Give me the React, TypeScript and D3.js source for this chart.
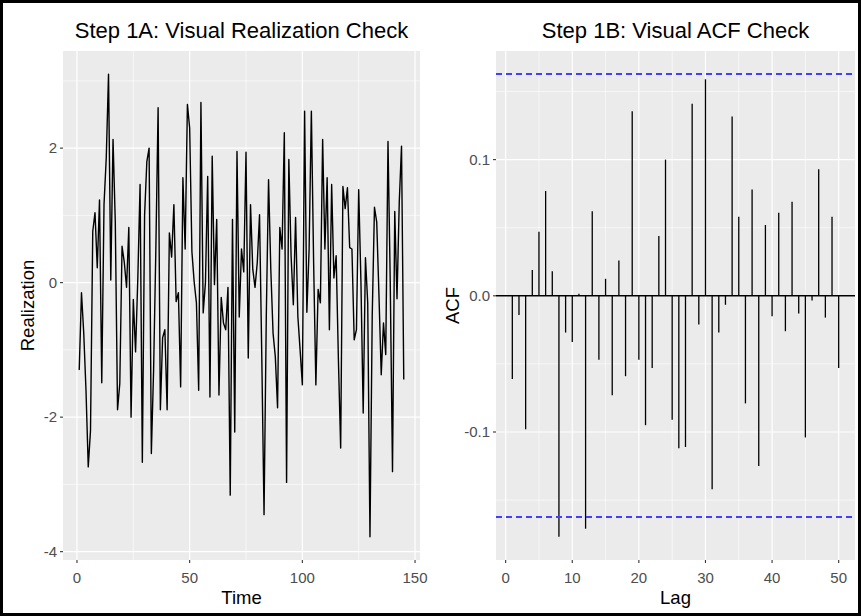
import React from 'react';
import * as d3 from 'd3';

const W = 861;
const H = 616;

// Realization values, t = 1..145
const realization: number[] = [
  -1.30, -0.15, -0.75, -1.60, -2.74, -2.20, 0.76, 1.04, 0.22, 1.23,
  -1.49, 1.16, 1.86, 3.10, 0.04, 2.13, 0.90, -1.89, -1.50, 0.54,
  0.30, -0.07, 0.82, -2.00, -0.25, -1.03, 0.07, 1.46, -2.67, 1.00,
  1.80, 2.00, -2.54, -1.30, 0.50, 2.60, -1.89, -0.82, -0.70, -1.89,
  0.74, 0.38, 1.16, -0.28, -0.15, -1.55, 1.56, 0.50, 2.65, 2.30,
  0.46, 0.01, -0.30, -1.60, 2.68, -0.45, 0.00, 1.58, -1.70, 1.88,
  -0.03, 0.94, -1.67, -0.22, -0.60, -0.70, -0.07, -3.16, 0.94, -2.22,
  1.95, -0.51, 0.50, 0.16, 1.94, -1.12, 1.16, 0.20, -0.07, 0.30,
  1.01, -1.10, -3.45, -0.50, 1.53, 0.20, -0.75, -1.10, -1.86, 0.82,
  0.50, 2.23, -2.97, 1.83, 0.40, -0.33, 0.97, -0.50, -1.00, -1.52,
  2.55, -0.44, 0.50, 2.55, 0.30, -1.52, -0.10, -0.30, 2.13, 0.50,
  1.56, -0.70, 1.46, 0.07, 0.40, -1.15, -2.46, 1.43, 1.10, 1.41,
  0.52, 0.50, -0.85, -0.70, 1.38, 0.00, -1.94, 0.37, -0.30, -3.78,
  -0.50, 1.12, 0.90, -0.20, -1.37, -0.60, -1.07, 2.10, 0.00, -2.81,
  1.06, -0.24, 1.20, 2.03, -1.44,
];

// ACF values, lag = 1..50
const acfValues: number[] = [
  -0.061, -0.014, -0.098, 0.019, 0.047, 0.077, 0.018, -0.177, -0.027, -0.034,
  0.0015, -0.171, 0.062, -0.047, 0.0125, -0.073, 0.026, -0.059, 0.1355, -0.047,
  -0.095, -0.053, 0.044, 0.100, -0.091, -0.112, -0.111, 0.141, -0.021, 0.159,
  -0.142, -0.027, -0.0066, 0.1316, 0.058, -0.079, 0.078, -0.125, 0.052, -0.015,
  0.061, -0.026, 0.069, -0.013, -0.104, -0.0034, 0.093, -0.016, 0.058, -0.053,
];

const timeTicks = [0, 50, 100, 150];
const timeMinor = [25, 75, 125];
const realTicks = [-4, -2, 0, 2];
const realMinor = [-3, -1, 1, 3];
const lagTicks = [0, 10, 20, 30, 40, 50];
const lagMinor = [5, 15, 25, 35, 45];
const acfTicks = [-0.1, 0, 0.1];
const acfTickLabels = ['-0.1', '0.0', '0.1'];
const acfMinor = [-0.15, -0.05, 0.05, 0.15];

const titles = ['Step 1A: Visual Realization Check', 'Step 1B: Visual ACF Check'];
const xTitles = ['Time', 'Lag'];
const yTitles = ['Realization', 'ACF'];

const FONT = "'Liberation Sans', Arial, sans-serif";
const BG = '#EBEBEB';
const TICK_COL = '#4D4D4D';

function expand(ext: [number, number]): [number, number] {
  const r = ext[1] - ext[0];
  return [ext[0] - 0.05 * r, ext[1] + 0.05 * r];
}

export default function App() {
  const n = realization.length;
  const bound = 1.96 / Math.sqrt(n);

  const L = { x0: 63, x1: 420, y0: 51, y1: 560 };
  const R = { x0: 496, x1: 855, y0: 51, y1: 560 };

  const times = realization.map((_, i) => i + 1);
  const lags = acfValues.map((_, i) => i + 1);

  const xL = d3.scaleLinear().domain(expand(d3.extent(times) as [number, number])).range([L.x0, L.x1]);
  const yL = d3.scaleLinear().domain(expand(d3.extent(realization) as [number, number])).range([L.y1, L.y0]);

  const xR = d3.scaleLinear().domain(expand(d3.extent(lags) as [number, number])).range([R.x0, R.x1]);
  const acfExt = d3.extent([...acfValues, bound, -bound]) as [number, number];
  const yR = d3.scaleLinear().domain(expand(acfExt)).range([R.y1, R.y0]);

  const line = d3.line<number>().x((_, i) => xL(times[i])).y((d) => yL(d));

  const tickLen = 3;
  const tickFont = 15;

  const renderGrid = (P: typeof L, xs: any, ys: any, xMaj: number[], xMin: number[], yMaj: number[], yMin: number[]) => (
    <g>
      <rect x={P.x0} y={P.y0} width={P.x1 - P.x0} height={P.y1 - P.y0} fill={BG} />
      {xMin.map((v) => (
        <line key={'xm' + v} x1={xs(v)} x2={xs(v)} y1={P.y0} y2={P.y1} stroke="#fff" strokeWidth={0.6} />
      ))}
      {yMin.map((v) => (
        <line key={'ym' + v} x1={P.x0} x2={P.x1} y1={ys(v)} y2={ys(v)} stroke="#fff" strokeWidth={0.6} />
      ))}
      {xMaj.map((v) => (
        <line key={'xM' + v} x1={xs(v)} x2={xs(v)} y1={P.y0} y2={P.y1} stroke="#fff" strokeWidth={1.2} />
      ))}
      {yMaj.map((v) => (
        <line key={'yM' + v} x1={P.x0} x2={P.x1} y1={ys(v)} y2={ys(v)} stroke="#fff" strokeWidth={1.2} />
      ))}
    </g>
  );

  const renderAxes = (P: typeof L, xs: any, ys: any, xMaj: number[], yMaj: number[], yLabels: string[]) => (
    <g>
      {xMaj.map((v) => (
        <g key={'xt' + v}>
          <line x1={xs(v)} x2={xs(v)} y1={P.y1} y2={P.y1 + tickLen} stroke="#333" strokeWidth={1.1} />
          <text x={xs(v)} y={P.y1 + 22.5} textAnchor="middle" fontSize={tickFont} fill={TICK_COL} fontFamily={FONT}>
            {String(v)}
          </text>
        </g>
      ))}
      {yMaj.map((v, i) => (
        <g key={'yt' + v}>
          <line x1={P.x0 - tickLen} x2={P.x0} y1={ys(v)} y2={ys(v)} stroke="#333" strokeWidth={1.1} />
          <text x={P.x0 - 6} y={ys(v) + 5.3} textAnchor="end" fontSize={tickFont} fill={TICK_COL} fontFamily={FONT}>
            {yLabels[i]}
          </text>
        </g>
      ))}
    </g>
  );

  return (
    <svg width={W} height={H} style={{ position: 'absolute', left: 0, top: 0, background: '#fff' }}>
      <rect x={0} y={0} width={W} height={H} fill="#fff" />

      {/* Left panel */}
      {renderGrid(L, xL, yL, timeTicks, timeMinor, realTicks, realMinor)}
      <path d={line(realization) || ''} fill="none" stroke="#000" strokeWidth={1.4} strokeLinejoin="round" />
      {renderAxes(L, xL, yL, timeTicks, realTicks, realTicks.map(String))}

      {/* Right panel */}
      {renderGrid(R, xR, yR, lagTicks, lagMinor, acfTicks, acfMinor)}
      <line x1={R.x0} x2={R.x1} y1={yR(0)} y2={yR(0)} stroke="#000" strokeWidth={1.4} />
      {acfValues.map((v, i) => (
        <line key={'acf' + i} x1={xR(lags[i])} x2={xR(lags[i])} y1={yR(0)} y2={yR(v)} stroke="#000" strokeWidth={1.3} />
      ))}
      {[bound, -bound].map((b, i) => (
        <line key={'b' + i} x1={R.x0} x2={R.x1} y1={Math.round(yR(b))} y2={Math.round(yR(b))} stroke="#4040FF" strokeWidth={2} strokeDasharray="6 4" />
      ))}
      {renderAxes(R, xR, yR, lagTicks, acfTicks, acfTickLabels)}

      {/* Titles */}
      <text x={(L.x0 + L.x1) / 2} y={38} textAnchor="middle" fontSize={22} fill="#000" fontFamily={FONT}>
        {titles[0]}
      </text>
      <text x={(R.x0 + R.x1) / 2} y={38} textAnchor="middle" fontSize={22} fill="#000" fontFamily={FONT}>
        {titles[1]}
      </text>
      <text x={(L.x0 + L.x1) / 2} y={604} textAnchor="middle" fontSize={18.5} fill="#000" fontFamily={FONT}>
        {xTitles[0]}
      </text>
      <text x={(R.x0 + R.x1) / 2} y={604} textAnchor="middle" fontSize={18.5} fill="#000" fontFamily={FONT}>
        {xTitles[1]}
      </text>
      <text transform={`translate(33.5,${(L.y0 + L.y1) / 2}) rotate(-90)`} textAnchor="middle" fontSize={18.5} fill="#000" fontFamily={FONT}>
        {yTitles[0]}
      </text>
      <text transform={`translate(458.5,${(R.y0 + R.y1) / 2}) rotate(-90)`} textAnchor="middle" fontSize={18.5} fill="#000" fontFamily={FONT}>
        {yTitles[1]}
      </text>

      {/* Outer frame */}
      <rect x={1.5} y={1.5} width={W - 3} height={H - 3} fill="none" stroke="#000" strokeWidth={3} />
    </svg>
  );
}
